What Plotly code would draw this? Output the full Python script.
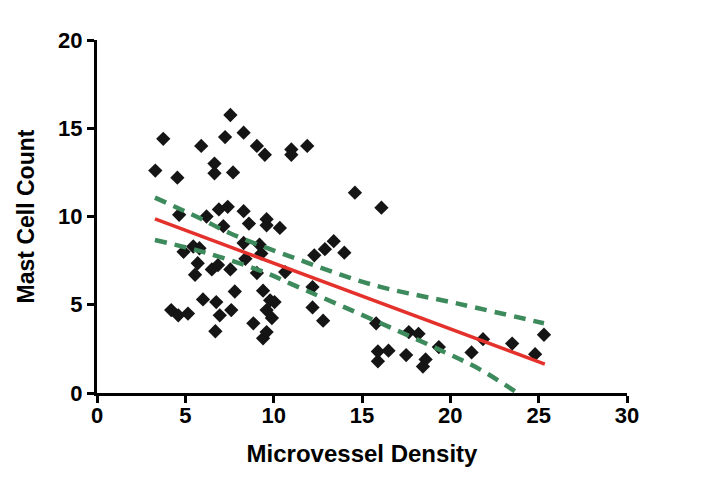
import plotly.graph_objects as go

# Scatter data: Microvessel Density (x) vs Mast Cell Count (y)
mvd = [3.3, 3.75, 4.55, 4.65, 4.2, 4.6, 5.15, 4.9, 5.45, 5.8, 5.7, 5.55, 5.9, 6.2, 6.0,
       6.5, 6.85, 6.65, 6.65, 6.75, 6.95, 6.7, 6.9, 7.15, 7.25, 7.4, 7.55, 7.55, 7.6, 7.7,
       7.8, 8.3, 8.3, 8.3, 8.4, 8.6, 8.85, 9.05, 9.05, 9.2, 9.3, 9.5, 9.4, 9.4, 9.6,
       9.6, 9.6, 9.6, 9.8, 9.9, 10.05, 10.35, 10.65, 11.0, 11.0, 11.9, 12.2, 12.2, 12.3,
       12.8, 12.9, 13.4, 14.0, 14.6, 15.8, 15.9, 15.9, 16.1, 16.5, 17.5, 17.65, 18.2,
       18.6, 18.45, 19.35, 21.2, 21.85, 23.5, 24.8, 25.3]
mast = [12.6, 14.4, 12.2, 10.1, 4.7, 4.4, 4.5, 8.0, 8.3, 8.2, 7.35, 6.7, 14.0, 10.0, 5.3,
        7.0, 7.25, 13.0, 12.45, 5.15, 4.4, 3.5, 10.4, 9.45, 14.5, 10.55, 15.75, 7.0, 4.7, 12.5,
        5.75, 14.75, 10.3, 8.5, 7.6, 9.6, 3.95, 14.0, 6.8, 8.4, 7.9, 13.5, 5.8, 3.1, 9.85,
        9.5, 4.7, 3.45, 5.25, 4.25, 5.15, 9.35, 6.85, 13.8, 13.5, 14.0, 6.0, 4.85, 7.8,
        4.1, 8.15, 8.6, 7.95, 11.35, 3.95, 2.35, 1.8, 10.5, 2.4, 2.15, 3.45, 3.35,
        1.9, 1.5, 2.6, 2.3, 3.05, 2.8, 2.2, 3.3]

# Regression line end points
fit_x = [3.28, 25.35]
fit_y = [9.86, 1.64]

# 95% confidence band
upper_x = [3.28, 5.83, 7.53, 10.92, 15.64, 20.36, 25.3]
upper_y = [11.07, 9.9, 9.05, 7.74, 6.12, 5.08, 3.95]
lower_x = [3.28, 6.21, 9.41, 10.92, 15.64, 19.41, 21.67, 23.8]
lower_y = [8.67, 7.93, 6.87, 6.21, 4.14, 2.44, 1.34, 0.0]

x_ticks = [0, 5, 10, 15, 20, 25, 30]
y_ticks = [0, 5, 10, 15, 20]

FONT = "Liberation Sans, Arial, sans-serif"
GREEN = "#3d8a5c"
RED = "#e4312b"

fig = go.Figure()
fig.add_trace(go.Scatter(x=mvd, y=mast, mode="markers",
                         marker=dict(symbol="diamond", size=11, color="#151515"),
                         showlegend=False, cliponaxis=False))
fig.add_trace(go.Scatter(x=upper_x, y=upper_y, mode="lines",
                         line=dict(color=GREEN, width=4.5, dash="12px,8px", shape="spline"),
                         showlegend=False))
fig.add_trace(go.Scatter(x=lower_x, y=lower_y, mode="lines",
                         line=dict(color=GREEN, width=4.5, dash="12px,8px", shape="spline"),
                         showlegend=False))
fig.add_trace(go.Scatter(x=fit_x, y=fit_y, mode="lines",
                         line=dict(color=RED, width=3.5),
                         showlegend=False))

axis_common = dict(showgrid=False, zeroline=False, showline=True, linecolor="black",
                   linewidth=3, ticks="outside", ticklen=7, tickwidth=3, tickcolor="black",
                   tickfont=dict(family=FONT, size=22, color="black", weight="bold"))

fig.update_xaxes(range=[0, 30], tickvals=x_ticks, ticktext=[str(v) for v in x_ticks],
                 ticklabelstandoff=-6,
                 title=dict(text="Microvessel Density", standoff=18,
                            font=dict(family=FONT, size=24, color="black", weight="bold")),
                 **axis_common)
fig.update_yaxes(range=[0, 20], tickvals=y_ticks, ticktext=[str(v) for v in y_ticks],
                 title=dict(text="Mast Cell Count", standoff=18,
                            font=dict(family=FONT, size=23, color="black", weight="bold")),
                 **axis_common)

# page body has an 8px default margin, so the figure is offset by 8px
fig.update_layout(width=693, height=480, margin=dict(l=89, r=74, t=32, b=95),
                  plot_bgcolor="white", paper_bgcolor="white")

fig.write_html("out.html")
